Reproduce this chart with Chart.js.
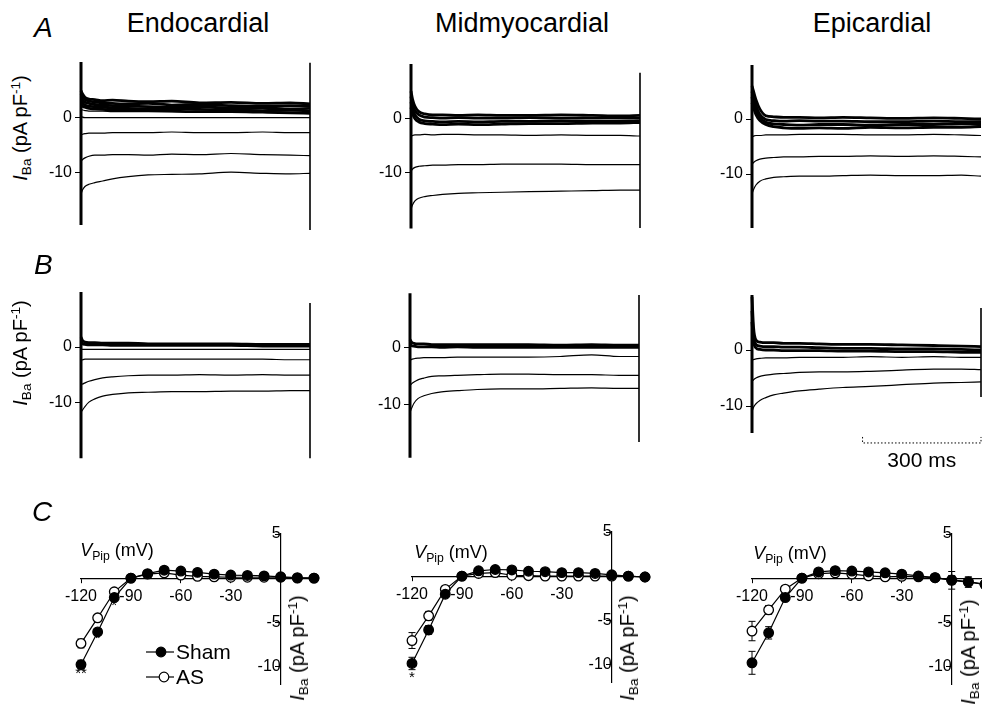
<!DOCTYPE html>
<html>
<head>
<meta charset="utf-8">
<script src="https://cdn.jsdelivr.net/npm/chart.js@4.4.1/dist/chart.umd.min.js"></script>
<style>
  html, body { margin: 0; padding: 0; background: #fff; overflow: hidden; }
  #fig { position: relative; width: 982px; height: 704px; overflow: hidden;
         font-family: "Liberation Sans", Arial, Helvetica, sans-serif; color: #000; }
  #fig canvas { position: absolute; }
  .lbl { position: absolute; white-space: nowrap; line-height: 1; }
  .letter { font-size: 28px; font-style: italic; }
  .title { font-size: 27px; transform: translateX(-50%); }
  .ylab { font-size: 20px; transform: translate(-50%, -50%) rotate(-90deg); }
  .vlab { font-size: 18px; transform: translate(-50%, -50%); }
  sub { font-size: 0.68em; vertical-align: -0.3em; line-height: 0; }
  sup { font-size: 0.68em; vertical-align: 0.5em; line-height: 0; }
</style>
</head>
<body>
<div id="fig">
  <div class="lbl letter" style="left:34px;top:14px">A</div>
  <div class="lbl letter" style="left:34px;top:251px">B</div>
  <div class="lbl letter" style="left:32px;top:498px">C</div>
  <div class="lbl title" style="left:198px;top:10px">Endocardial</div>
  <div class="lbl title" style="left:522px;top:10px">Midmyocardial</div>
  <div class="lbl title" style="left:872px;top:10px">Epicardial</div>
  <div class="lbl ylab" style="left:20px;top:128px"><i>I</i><sub>Ba</sub> (pA pF<sup>-1</sup>)</div>
  <div class="lbl ylab" style="left:20px;top:353px"><i>I</i><sub>Ba</sub> (pA pF<sup>-1</sup>)</div>
  <div class="lbl vlab" style="left:117px;top:550px"><i>V</i><sub>Pip</sub> (mV)</div>
  <div class="lbl vlab" style="left:451px;top:552px"><i>V</i><sub>Pip</sub> (mV)</div>
  <div class="lbl vlab" style="left:790px;top:553px"><i>V</i><sub>Pip</sub> (mV)</div>
  <div class="lbl ylab" style="left:297px;top:648px"><i>I</i><sub>Ba</sub> (pA pF<sup>-1</sup>)</div>
  <div class="lbl ylab" style="left:627px;top:648px"><i>I</i><sub>Ba</sub> (pA pF<sup>-1</sup>)</div>
  <div class="lbl ylab" style="left:968px;top:652px"><i>I</i><sub>Ba</sub> (pA pF<sup>-1</sup>)</div>
</div>
<script>
// sample times (ms) for the current traces
const traceTimes = [0, 4, 10, 20, 35, 55, 80, 120, 170, 230, 300, 380, 460, 530, 580];

// row A traces (pA/pF), thick overlapping family first
const aEndo = [
  [4.8, 4.2, 3.6, 3.3, 3.2, 3.0, 3.1, 2.9, 2.8, 2.9, 2.6, 2.7, 2.5, 2.6, 2.4],
  [4.2, 3.6, 3.2, 2.9, 2.8, 2.6, 2.5, 2.4, 2.5, 2.2, 2.3, 2.1, 2.0, 2.1, 2.0],
  [3.6, 3.1, 2.7, 2.5, 2.3, 2.2, 2.1, 2.0, 1.9, 1.8, 1.9, 1.6, 1.7, 1.5, 1.6],
  [3.0, 2.6, 2.2, 2.0, 1.9, 1.8, 1.7, 1.6, 1.5, 1.5, 1.4, 1.3, 1.2, 1.3, 1.1],
  [2.4, 2.0, 1.8, 1.6, 1.5, 1.4, 1.3, 1.3, 1.2, 1.1, 1.0, 1.0, 0.9, 0.8, 0.7],
  [1.4, 1.3, 1.2, 1.1, 1.1, 1.1, 1.0, 1.0, 1.0, 1.0, 0.9, 0.9, 0.9, 0.8, 0.7],
  [0.2, 0.0, -0.1, -0.1, -0.1, -0.1, -0.1, -0.1, -0.1, -0.1, -0.1, -0.1, -0.1, -0.1, -0.1],
  [-3.2, -3.1, -3.0, -2.9, -2.9, -2.9, -2.8, -2.8, -2.8, -2.7, -2.8, -2.8, -2.7, -2.8, -2.8],
  [-8.0, -7.7, -7.4, -7.1, -6.9, -6.9, -6.8, -6.8, -6.9, -6.7, -6.8, -6.6, -6.8, -6.9, -7.0],
  [-14.0, -13.2, -12.6, -12.2, -11.9, -11.6, -11.2, -10.8, -10.5, -10.4, -10.3, -10.0, -10.2, -10.3, -10.2]
];
const aMid = [
  [5.0, 3.5, 2.2, 1.2, 0.8, 0.6, 0.6, 0.5, 0.6, 0.5, 0.5, 0.6, 0.5, 0.4, 0.5],
  [4.0, 2.5, 1.4, 0.6, 0.2, 0.1, 0.0, 0.1, 0.0, 0.0, 0.1, 0.0, 0.0, 0.1, 0.0],
  [3.0, 1.6, 0.6, -0.2, -0.5, -0.6, -0.7, -0.6, -0.7, -0.6, -0.6, -0.5, -0.6, -0.5, -0.5],
  [2.0, 0.8, -0.1, -0.7, -1.0, -1.1, -1.2, -1.1, -1.2, -1.1, -1.0, -1.0, -0.9, -0.9, -0.8],
  [-3.4, -3.2, -3.1, -3.1, -3.0, -3.1, -3.0, -3.0, -3.1, -3.1, -3.2, -3.1, -3.2, -3.2, -3.3],
  [-9.8, -9.4, -9.1, -8.9, -8.8, -8.7, -8.7, -8.6, -8.6, -8.5, -8.5, -8.5, -8.6, -8.6, -8.6],
  [-16.8, -16.0, -15.3, -14.8, -14.5, -14.3, -14.1, -13.9, -13.8, -13.7, -13.6, -13.5, -13.4, -13.3, -13.3]
];
const aEpi = [
  [6.0, 5.0, 3.5, 1.8, 0.6, 0.4, 0.3, 0.3, 0.2, 0.3, 0.2, 0.1, 0.2, 0.1, 0.0],
  [5.0, 3.8, 2.4, 0.8, -0.1, -0.3, -0.4, -0.3, -0.4, -0.4, -0.5, -0.5, -0.4, -0.5, -0.5],
  [4.0, 2.8, 1.5, 0.2, -0.6, -0.9, -1.0, -1.1, -1.0, -1.0, -1.1, -1.0, -1.0, -0.9, -1.0],
  [3.0, 2.0, 0.8, -0.3, -1.0, -1.4, -1.6, -1.7, -1.6, -1.7, -1.5, -1.6, -1.5, -1.5, -1.4],
  [-3.2, -3.1, -3.0, -3.0, -2.9, -2.9, -2.9, -2.8, -2.8, -2.8, -2.9, -2.9, -2.8, -2.9, -3.0],
  [-8.2, -7.9, -7.6, -7.3, -7.1, -7.0, -6.9, -6.9, -6.8, -6.8, -6.7, -6.8, -6.7, -6.8, -6.9],
  [-13.6, -12.8, -12.0, -11.3, -10.9, -10.6, -10.5, -10.4, -10.4, -10.3, -10.2, -10.3, -10.3, -10.2, -10.4]
];

// row B traces
const bEndo = [
  [1.8, 1.2, 0.9, 0.8, 0.8, 0.7, 0.7, 0.7, 0.6, 0.6, 0.6, 0.6, 0.5, 0.5, 0.5],
  [1.0, 0.6, 0.5, 0.4, 0.4, 0.4, 0.3, 0.3, 0.3, 0.3, 0.3, 0.3, 0.2, 0.2, 0.2],
  [-0.4, -0.4, -0.4, -0.4, -0.4, -0.4, -0.4, -0.4, -0.4, -0.4, -0.4, -0.4, -0.4, -0.4, -0.4],
  [-2.4, -2.3, -2.2, -2.2, -2.2, -2.2, -2.2, -2.2, -2.2, -2.2, -2.2, -2.2, -2.2, -2.3, -2.3],
  [-6.8, -6.7, -6.5, -6.2, -5.9, -5.6, -5.4, -5.2, -5.1, -5.1, -5.0, -5.1, -5.0, -5.1, -5.1],
  [-11.8, -11.4, -10.8, -10.0, -9.4, -8.9, -8.6, -8.3, -8.2, -8.1, -8.1, -8.0, -8.0, -7.9, -7.9]
];
const bMid = [
  [1.5, 1.0, 0.8, 0.7, 0.7, 0.6, 0.6, 0.6, 0.6, 0.6, 0.6, 0.5, 0.6, 0.5, 0.5],
  [0.8, 0.4, 0.3, 0.2, 0.2, 0.2, 0.1, 0.2, 0.1, 0.1, 0.1, 0.1, 0.1, 0.1, 0.1],
  [-2.2, -2.0, -1.9, -1.8, -1.7, -1.7, -1.7, -1.6, -1.6, -1.6, -1.6, -1.5, -1.2, -1.5, -1.5],
  [-6.6, -6.3, -6.0, -5.6, -5.3, -5.0, -4.9, -4.8, -4.7, -4.6, -4.6, -4.7, -4.7, -4.8, -4.8],
  [-11.3, -10.6, -9.7, -8.9, -8.4, -8.0, -7.7, -7.5, -7.3, -7.2, -7.2, -7.1, -7.0, -7.1, -7.1]
];
const bEpi = [
  [9.5, 4.0, 1.8, 1.4, 1.3, 1.3, 1.2, 1.2, 1.1, 1.0, 1.0, 0.9, 0.8, 0.7, 0.6],
  [7.0, 2.5, 1.0, 0.7, 0.6, 0.6, 0.5, 0.5, 0.4, 0.3, 0.3, 0.2, 0.2, 0.1, 0.0],
  [5.0, 1.5, 0.4, 0.1, 0.0, 0.0, -0.1, -0.1, -0.1, -0.2, -0.2, -0.3, -0.3, -0.4, -0.4],
  [-1.9, -1.7, -1.6, -1.5, -1.4, -1.4, -1.4, -1.3, -1.3, -1.3, -1.2, -1.3, -1.2, -1.3, -1.3],
  [-5.6, -5.3, -5.0, -4.7, -4.5, -4.3, -4.2, -4.0, -3.9, -3.9, -3.8, -3.6, -3.4, -3.4, -3.5],
  [-11.0, -10.2, -9.6, -9.0, -8.5, -8.0, -7.7, -7.3, -7.0, -6.7, -6.5, -6.2, -5.9, -5.8, -5.7]
];

// capacitive transients at step on / step off: [peak, trough]
const onTransient = { aEndo: [10, -19.6], aMid: [10, -20.4], aEpi: [9.8, -19.8], bEndo: [10, -20.2], bMid: [9.6, -19.3], bEpi: [9.8, -14.8] };
const offTransient = { aEndo: [9.9, -20.5], aMid: [8.4, -20.3], bEndo: [8, -20.2], bMid: [9.3, -16.5], bEpi: [7.5, -8.4] };

// I-V relations (pA/pF), mean and s.e.m.
const voltages = [-120, -110, -100, -90, -80, -70, -60, -50, -40, -30, -20, -10, 0, 10, 20];
const endoSham = [-9.8, -6.1, -2.2, 0.0, 0.5, 0.9, 0.8, 0.65, 0.45, 0.35, 0.3, 0.25, 0.15, 0.05, 0.0];
const endoAS   = [-7.4, -4.5, -1.55, 0.0, 0.45, 0.6, 0.35, 0.2, 0.15, 0.1, 0.1, 0.1, 0.1, 0.0, 0.0];
const endoShamErr = [0.5, 0.4, 0.2, 0, 0, 0, 0, 0, 0, 0, 0, 0, 0, 0, 0];
const endoASErr   = [0.5, 0.3, 0.2, 0, 0, 0, 0, 0, 0, 0, 0, 0, 0, 0, 0];
const midSham = [-9.9, -6.1, -2.05, 0.0, 0.6, 0.75, 0.7, 0.55, 0.5, 0.4, 0.4, 0.3, 0.15, 0.0, -0.1];
const midAS   = [-7.3, -4.5, -1.5, 0.0, 0.3, 0.4, 0.1, 0.05, 0.0, 0.0, 0.0, 0.0, 0.0, 0.0, -0.1];
const midShamErr = [0.7, 0.5, 0.2, 0, 0, 0, 0, 0, 0, 0, 0, 0, 0, 0, 0];
const midASErr   = [0.9, 0.5, 0.2, 0, 0, 0, 0, 0, 0, 0, 0, 0, 0, 0, 0];
const epiSham = [-9.6, -6.2, -2.2, 0.0, 0.7, 0.85, 0.8, 0.7, 0.6, 0.45, 0.25, 0.05, -0.25, -0.45, -0.7];
const epiAS   = [-6.0, -3.6, -1.25, 0.0, 0.5, 0.6, 0.45, 0.25, 0.15, 0.2, 0.15, 0.05, -0.2, -0.4, -0.7];
const epiShamErr = [1.3, 0.7, 0.3, 0, 0, 0, 0, 0, 0, 0, 0, 0, 1.0, 0.6, 0.4];
const epiASErr   = [1.1, 0.5, 0.2, 0, 0, 0, 0, 0, 0, 0, 0, 0, 0.5, 0.3, 0];

// significance marks: [voltage, current position, text]
const endoStars = [[-120, -10.9, '**'], [-110, -6.9, '*'], [-100, -3.1, '*']];
const midStars = [[-120, -11.5, '*']];

const FONT = '"Liberation Sans", Arial, Helvetica, sans-serif';
Chart.defaults.font.family = FONT;
Chart.defaults.color = '#000';
Chart.defaults.animation = false;
Chart.defaults.plugins.legend.display = false;
Chart.defaults.plugins.tooltip.enabled = false;

const MS_PX = 229 / 580;   // pixels per ms
const MV_PX = 50 / 30;     // pixels per mV

function makeCanvas(left, top, w, h) {
  const c = document.createElement('canvas');
  c.width = Math.round(w);
  c.height = Math.round(h);
  c.style.left = Math.round(left) + 'px';
  c.style.top = Math.round(top) + 'px';
  document.getElementById('fig').insertBefore(c, document.getElementById('fig').firstChild);
  return c;
}

function tracePanel(p, traces, bandCount, onTr, offTr, plugins) {
  const axisW = 40, padT = 16, padB = p.padB || 16, padR = 6;
  const w = axisW + 580 * MS_PX + padR;
  const h = padT + (p.yMax - p.yMin) * p.ppu + padB;
  const canvas = makeCanvas(p.x0 - axisW, p.y0 - p.yMax * p.ppu - padT, w, h);

  const datasets = traces.map((vals, i) => ({
    data: traceTimes.map((t, k) => ({ x: t, y: vals[k] })),
    borderColor: '#000',
    borderWidth: i < bandCount ? 2.8 : 1.2,
    pointRadius: 0,
    cubicInterpolationMode: 'monotone',
    clip: false
  }));
  if (onTr) datasets.push({ data: [{ x: 0, y: onTr[0] }, { x: 0, y: onTr[1] }], borderColor: '#000', borderWidth: 3, pointRadius: 0, clip: false });
  if (offTr) datasets.push({ data: [{ x: 580, y: offTr[0] }, { x: 580, y: offTr[1] }], borderColor: '#000', borderWidth: 1.6, pointRadius: 0, clip: false });

  new Chart(canvas, {
    type: 'line',
    data: { datasets },
    options: {
      responsive: false,
      devicePixelRatio: 1,
      layout: { padding: { top: padT, bottom: padB, left: 0, right: padR } },
      scales: {
        x: { type: 'linear', display: false, min: 0, max: 580 },
        y: {
          min: p.yMin, max: p.yMax,
          afterFit: s => { s.width = axisW; },
          afterBuildTicks: s => { s.ticks = [{ value: 0 }, { value: -10 }]; },
          ticks: { font: { size: 16 }, color: '#000', padding: 3 },
          grid: { drawOnChartArea: false, drawTicks: true, tickLength: 6, color: '#000', lineWidth: 1 },
          border: { display: false }
        }
      }
    },
    plugins: plugins || []
  });
}

function ivPanel(p, sham, as, shamErr, asErr, stars, extra) {
  const padL = 34, padR = 20, padT = 20, padB = 26;
  const w = padL + 140 * MV_PX + padR;
  const h = padT + 17 * p.ppu + padB;
  const canvas = makeCanvas(p.xZero - 120 * MV_PX - padL, p.y0 - 5 * p.ppu - padT, w, h);

  const errorBars = {
    id: 'errorBars',
    beforeDatasetsDraw(chart) {
      const { ctx, scales: { x, y } } = chart;
      ctx.save();
      ctx.strokeStyle = '#000';
      ctx.lineWidth = 1;
      [[sham, shamErr], [as, asErr]].forEach(([vals, errs]) => {
        vals.forEach((v, i) => {
          const e = errs[i];
          if (!e) return;
          const px = x.getPixelForValue(voltages[i]);
          const y1 = y.getPixelForValue(v + e), y2 = y.getPixelForValue(v - e);
          ctx.beginPath();
          ctx.moveTo(px, y1); ctx.lineTo(px, y2);
          ctx.moveTo(px - 3.5, y1); ctx.lineTo(px + 3.5, y1);
          ctx.moveTo(px - 3.5, y2); ctx.lineTo(px + 3.5, y2);
          ctx.stroke();
        });
      });
      ctx.restore();
    },
    afterDatasetsDraw(chart) {
      const { ctx, scales: { x, y } } = chart;
      ctx.save();
      ctx.font = '15px ' + FONT;
      ctx.textAlign = 'center';
      ctx.textBaseline = 'middle';
      stars.forEach(([v, c, t]) => ctx.fillText(t, x.getPixelForValue(v), y.getPixelForValue(c)));
      ctx.restore();
    }
  };

  const point = { pointRadius: 4.8, borderWidth: 1.2, pointBorderWidth: 1.3, borderColor: '#000', pointBorderColor: '#000', clip: false, tension: 0 };
  new Chart(canvas, {
    type: 'line',
    data: {
      datasets: [
        Object.assign({ label: 'Sham', data: voltages.map((v, i) => ({ x: v, y: sham[i] })), pointBackgroundColor: '#000' }, point),
        Object.assign({ label: 'AS', data: voltages.map((v, i) => ({ x: v, y: as[i] })), pointBackgroundColor: '#fff' }, point)
      ]
    },
    options: {
      responsive: false,
      devicePixelRatio: 1,
      layout: { padding: { top: padT, bottom: padB, left: padL, right: padR } },
      scales: {
        x: {
          type: 'linear', min: -120, max: 20, position: { y: 0 },
          afterBuildTicks: s => { s.ticks = [-120, -90, -60, -30].map(value => ({ value })); },
          ticks: { font: { size: 16 }, color: '#000', padding: 5, maxRotation: 0 },
          grid: { drawOnChartArea: false, drawTicks: true, tickLength: 4, color: '#000', lineWidth: 1 },
          border: { color: '#000', width: 1.2, dash: p.axisDash || [] }
        },
        y: {
          min: -12, max: 5, position: { x: 0 },
          afterBuildTicks: s => { s.ticks = [5, -5, -10].map(value => ({ value })); },
          ticks: { font: { size: 16 }, color: '#000', padding: 2 },
          grid: { drawOnChartArea: false, drawTicks: true, tickLength: 5, color: '#000', lineWidth: 1 },
          border: { color: '#000', width: 1.2 }
        }
      }
    },
    plugins: [errorBars].concat(extra || [])
  });
}

// legend drawn inside the endocardial I-V panel
const ivLegend = {
  id: 'ivLegend',
  afterDraw(chart) {
    const { ctx, chartArea } = chart;
    const x0 = chartArea.left + 65;
    const rows = [['Sham', '#000', 118, 15], ['AS', '#fff', 143, 18]];
    ctx.save();
    ctx.strokeStyle = '#000';
    ctx.lineWidth = 1.2;
    ctx.font = '21px ' + FONT;
    ctx.textBaseline = 'middle';
    rows.forEach(([txt, fill, dy, mx]) => {
      const yy = chartArea.top + dy;
      ctx.beginPath(); ctx.moveTo(x0, yy); ctx.lineTo(x0 + 28, yy); ctx.stroke();
      ctx.beginPath(); ctx.arc(x0 + mx, yy, 4.8, 0, Math.PI * 2);
      ctx.fillStyle = fill; ctx.fill(); ctx.stroke();
      ctx.fillStyle = '#000';
      ctx.fillText(txt, x0 + 30, yy + 1);
    });
    ctx.restore();
  }
};

// 300 ms time calibration under the epicardial trace
const scaleBarStart = 280, scaleBarMs = 300;
const scaleBar = {
  id: 'scaleBar',
  afterDraw(chart) {
    const { ctx, scales: { x, y } } = chart;
    const x1 = x.getPixelForValue(scaleBarStart), x2 = x.getPixelForValue(scaleBarStart + scaleBarMs);
    const yb = y.getPixelForValue(-16.6);
    ctx.save();
    ctx.strokeStyle = '#000';
    ctx.lineWidth = 1;
    ctx.setLineDash([1.5, 2]);
    ctx.beginPath();
    ctx.moveTo(x1, yb - 6); ctx.lineTo(x1, yb); ctx.lineTo(x2, yb); ctx.lineTo(x2, yb - 6);
    ctx.stroke();
    ctx.setLineDash([]);
    ctx.fillStyle = '#000';
    ctx.font = '21px ' + FONT;
    ctx.textAlign = 'center';
    ctx.textBaseline = 'middle';
    ctx.fillText(scaleBarMs + ' ms', (x1 + x2) / 2, yb + 18);
    ctx.restore();
  }
};

tracePanel({ x0: 81, y0: 117, ppu: 5.5, yMax: 10.2, yMin: -20.5 }, aEndo, 5, onTransient.aEndo, offTransient.aEndo);
tracePanel({ x0: 411, y0: 118, ppu: 5.4, yMax: 10.2, yMin: -20.5 }, aMid, 4, onTransient.aMid, offTransient.aMid);
tracePanel({ x0: 752, y0: 119, ppu: 5.5, yMax: 10, yMin: -20 }, aEpi, 4, onTransient.aEpi, null);
tracePanel({ x0: 81, y0: 347, ppu: 5.5, yMax: 10, yMin: -20.5 }, bEndo, 2, onTransient.bEndo, offTransient.bEndo);
tracePanel({ x0: 410, y0: 348, ppu: 5.7, yMax: 10, yMin: -19.5 }, bMid, 2, onTransient.bMid, offTransient.bMid);
tracePanel({ x0: 752, y0: 350, ppu: 5.6, yMax: 10, yMin: -15, padB: 44 }, bEpi, 3, onTransient.bEpi, offTransient.bEpi, [scaleBar]);

ivPanel({ xZero: 281, y0: 578, ppu: 8.8 }, endoSham, endoAS, endoShamErr, endoASErr, endoStars, [ivLegend]);
ivPanel({ xZero: 612, y0: 576, ppu: 8.8, axisDash: [2, 3] }, midSham, midAS, midShamErr, midASErr, midStars);
ivPanel({ xZero: 952, y0: 578, ppu: 8.8 }, epiSham, epiAS, epiShamErr, epiASErr, []);
</script>
</body>
</html>
